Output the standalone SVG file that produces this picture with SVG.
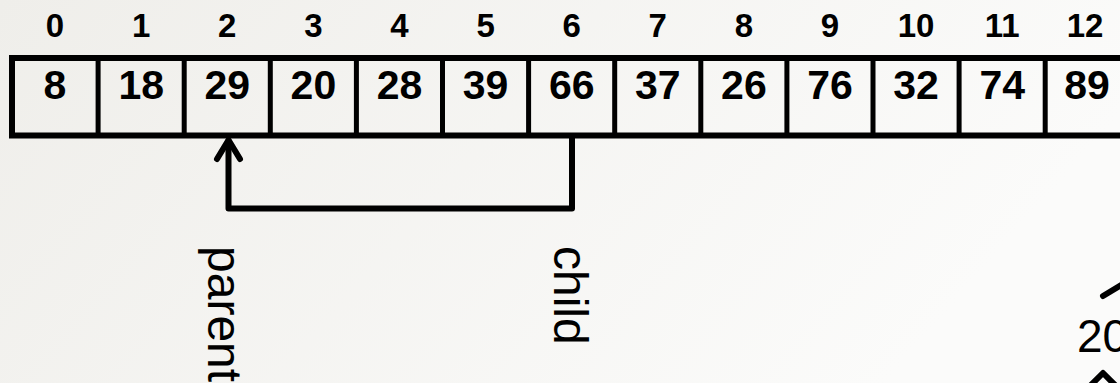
<svg xmlns="http://www.w3.org/2000/svg" width="1120" height="383" viewBox="0 0 1120 383">
  <defs>
    <linearGradient id="bg" x1="0" y1="0" x2="1" y2="0.3">
      <stop offset="0" stop-color="#efeeea"/>
      <stop offset="1" stop-color="#fbfbfa"/>
    </linearGradient>
    <style>
      .idx { font-family: "Liberation Sans", Arial, sans-serif; font-weight: bold; font-size: 33px; text-anchor: middle; fill: #000; }
      .val { font-family: "Liberation Sans", Arial, sans-serif; font-weight: bold; font-size: 41px; text-anchor: middle; fill: #000; }
      .lbl { font-family: "Liberation Sans", Arial, sans-serif; font-size: 48px; fill: #000; }
      .cell { fill: none; stroke: #000; stroke-width: 5; }
      .edge { fill: none; stroke: #000; stroke-width: 6; stroke-linejoin: round; stroke-linecap: round; }
    </style>
  </defs>
  <rect x="0" y="0" width="1120" height="383" fill="url(#bg)"/>

  <g id="array">
    <path class="cell" style="stroke-width:6" d="M1130,58 H12 V135.5 H1130"/>
    <path class="cell" d="M98.1,58 V135.5 M184.2,58 V135.5 M270.3,58 V135.5 M356.4,58 V135.5 M442.5,58 V135.5 M528.6,58 V135.5 M614.7,58 V135.5 M700.8,58 V135.5 M786.9,58 V135.5 M873,58 V135.5 M959.1,58 V135.5 M1045.2,58 V135.5"/>
  </g>

  <g id="indices">
    <text class="idx" x="55" y="37">0</text>
    <text class="idx" x="141.2" y="37">1</text>
    <text class="idx" x="227.3" y="37">2</text>
    <text class="idx" x="313.4" y="37">3</text>
    <text class="idx" x="399.5" y="37">4</text>
    <text class="idx" x="485.6" y="37">5</text>
    <text class="idx" x="571.7" y="37">6</text>
    <text class="idx" x="657.8" y="37">7</text>
    <text class="idx" x="743.9" y="37">8</text>
    <text class="idx" x="830" y="37">9</text>
    <text class="idx" x="916.1" y="37">10</text>
    <text class="idx" x="1002.2" y="37">11</text>
    <text class="idx" x="1085" y="37">12</text>
  </g>

  <g id="values">
    <text class="val" x="55" y="99">8</text>
    <text class="val" x="141.2" y="99">18</text>
    <text class="val" x="227.3" y="99">29</text>
    <text class="val" x="313.4" y="99">20</text>
    <text class="val" x="399.5" y="99">28</text>
    <text class="val" x="485.6" y="99">39</text>
    <text class="val" x="571.7" y="99">66</text>
    <text class="val" x="657.8" y="99">37</text>
    <text class="val" x="743.9" y="99">26</text>
    <text class="val" x="830" y="99">76</text>
    <text class="val" x="916.1" y="99">32</text>
    <text class="val" x="1002.2" y="99">74</text>
    <text class="val" x="1087" y="99">89</text>
  </g>

  <g id="connectors">
    <path class="edge" d="M572,138 V208.5 H228.5 V141"/>
    <polyline class="edge" points="217,159 228.5,140 240,159"/>
    <line class="edge" x1="1103" y1="296" x2="1126" y2="282"/>
    <polyline class="edge" points="1088,388 1103,373 1118,388"/>
  </g>

  <g id="label-parent">
    <text class="lbl" transform="translate(208,246) rotate(90)">parent</text>
  </g>
  <g id="label-child">
    <text class="lbl" transform="translate(554,246) rotate(90)">child</text>
  </g>
  <g id="node-20">
    <text class="lbl" style="font-size:46px" x="1077" y="352">20</text>
  </g>
</svg>
